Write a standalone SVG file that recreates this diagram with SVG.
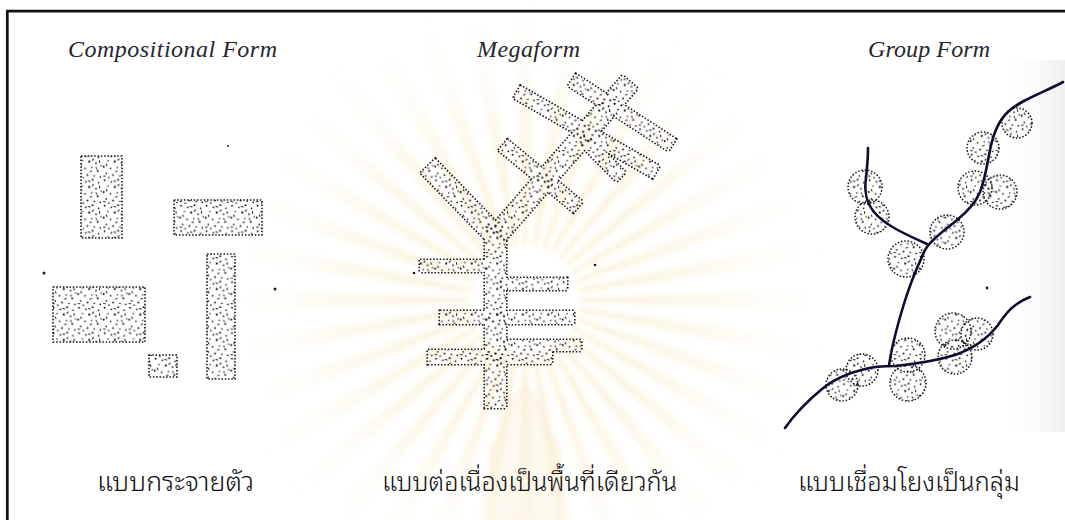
<svg xmlns="http://www.w3.org/2000/svg" xmlns:xlink="http://www.w3.org/1999/xlink" width="1065" height="520" viewBox="0 0 1065 520">
  <style>
    .title { font-family: "Liberation Serif", "Times New Roman", serif; font-style: italic; font-size: 24px; fill: #26262e; }
    .thai { font-family: "Noto Sans Thai Looped", "Loma", "Garuda", "Noto Serif Thai", "Noto Sans Thai", "Noto Sans", sans-serif; font-size: 26px; font-weight: 300; fill: #111; }
    .spot { fill: #1a1a1a; }
    .route { fill: none; stroke: #0c0c30; stroke-width: 2.6; stroke-linecap: round; stroke-linejoin: round; }
  </style>
  <defs>
    <!-- stipple texture used for every built mass -->
    <pattern id="st" width="30" height="30" patternUnits="userSpaceOnUse" patternTransform="scale(.85)">
      <g fill="#161616">
        <circle cx="3" cy="2" r="1.1"/><circle cx="11" cy="4" r="1"/><circle cx="19" cy="1.5" r="1.2"/>
        <circle cx="26" cy="5" r="1"/><circle cx="7" cy="9" r=".9"/><circle cx="15" cy="10" r="1.3"/>
        <circle cx="23" cy="12" r="1"/><circle cx="29" cy="15" r=".9"/><circle cx="2" cy="16" r="1.2"/>
        <circle cx="10" cy="18" r="1"/><circle cx="18" cy="17" r=".9"/><circle cx="25" cy="21" r="1.2"/>
        <circle cx="5" cy="24" r="1"/><circle cx="13" cy="26" r="1.1"/><circle cx="21" cy="27" r=".9"/>
        <circle cx="28" cy="28" r="1"/><circle cx="8" cy="29" r=".9"/>
      </g>
      <path d="M14 3 l2 .6 M5 13 l.8 1.8 M20 7 l-1.3 1.5 M27 9 l.4 2 M16 22 l1.8 -.8 M2 27 l1.7 .5 M23 17 l1.1 1.4" stroke="#161616" stroke-width="1.2" stroke-linecap="round"/>
    </pattern>

    <!-- watermark ray, pointing up from the origin -->
    <radialGradient id="rayg" gradientUnits="userSpaceOnUse" cx="0" cy="0" r="300">
      <stop offset="0.15" stop-color="#f1cd7c" stop-opacity=".3"/>
      <stop offset="0.5" stop-color="#f5dea5" stop-opacity=".24"/>
      <stop offset="1" stop-color="#fbeccb" stop-opacity="0"/>
    </radialGradient>
    <polygon id="ray" points="-2,-55 2,-55 11,-300 -11,-300" fill="url(#rayg)"/>
    <filter id="soft" x="-20%" y="-20%" width="140%" height="140%">
      <feGaussianBlur stdDeviation="2.5"/>
    </filter>

    <linearGradient id="scan" x1="0" x2="1" y1="0" y2="0">
      <stop offset="0" stop-color="#ffffff" stop-opacity="0"/>
      <stop offset="1" stop-color="#efefef"/>
    </linearGradient>

    <!-- megaform outline: trunk, fork branches and cross arms -->
    <g id="mega-shapes">
      <rect x="485" y="222" width="21" height="186"/>
      <rect x="420" y="260" width="68" height="12"/>
      <rect x="500" y="278" width="67" height="12"/>
      <rect x="440" y="311" width="134" height="13"/>
      <rect x="428" y="350" width="124" height="14"/>
      <rect x="500" y="340" width="81" height="11"/>
      <polygon points="420.8,173 435.2,159 501.2,227 486.8,241"/>
      <polygon points="488.5,229.4 503.5,242.6 637.5,88.6 622.5,75.4"/>
      <polygon points="568.2,85.9 575.8,74.1 675.8,139.1 668.2,150.9"/>
      <polygon points="513.5,98.1 520.5,85.9 659.5,165.9 652.5,178.1"/>
      <polygon points="498.5,150.4 507.5,139.6 582.5,201.6 573.5,212.4"/>
      <polygon points="576,141 585,131 625.5,172.3 616.5,181.7"/>
    </g>
  </defs>

  <rect width="1065" height="520" fill="#ffffff"/>

  <!-- slight grey of the scanned right-hand sheet -->
  <rect x="1000" y="60" width="65" height="372" fill="url(#scan)"/>

  <!-- page frame -->
  <path d="M7.3 520 V11.2 H1065" fill="none" stroke="#111" stroke-width="2.7"/>

  <!-- panel titles -->
  <g id="titles">
    <text class="title" x="68" y="57" textLength="209" lengthAdjust="spacing">Compositional Form</text>
    <text class="title" x="477" y="57" textLength="103" lengthAdjust="spacing">Megaform</text>
    <text class="title" x="868" y="57" textLength="122" lengthAdjust="spacing">Group Form</text>
  </g>

  <!-- scattered blocks -->
  <g id="compositional-form" fill="url(#st)" stroke="#161616" stroke-width="1.6" stroke-dasharray="1.5 1.8">
    <rect x="81" y="156" width="41" height="82"/>
    <rect x="174" y="200" width="88" height="35"/>
    <rect x="53" y="287" width="92" height="55"/>
    <rect x="149" y="355" width="28" height="22"/>
    <rect x="207" y="254" width="28" height="125"/>
    <g stroke="none" fill="#1a1a1a">
      <circle cx="228" cy="146" r="1"/>
      <circle cx="44" cy="273" r="1.5"/>
      <circle cx="275" cy="289" r="1.5"/>
    </g>
  </g>

  <!-- continuous branching mass: outline first, then white body, then stipple -->
  <g id="megaform">
    <use xlink:href="#mega-shapes" fill="none" stroke="#161616" stroke-width="3.2" stroke-dasharray="1.5 1.8"/>
    <use xlink:href="#mega-shapes" fill="#ffffff" stroke="none"/>
    <use xlink:href="#mega-shapes" fill="url(#st)" stroke="none"/>
    <circle class="spot" cx="414" cy="273" r="1.3"/>
    <circle class="spot" cx="595" cy="265" r="1.3"/>
  </g>

  <!-- clusters strung along paths -->
  <g id="group-form">
    <g id="clusters" fill="url(#st)" stroke="#161616" stroke-width="1.5" stroke-dasharray="1.5 1.8">
      <circle cx="1017" cy="123" r="15"/>
      <circle cx="983" cy="148" r="16"/>
      <circle cx="975" cy="188" r="17"/>
      <circle cx="1000" cy="192" r="17"/>
      <circle cx="947" cy="232" r="17"/>
      <circle cx="906" cy="259" r="18"/>
      <circle cx="865" cy="187" r="17"/>
      <circle cx="872" cy="217" r="17"/>
      <circle cx="842" cy="385" r="16"/>
      <circle cx="862" cy="370" r="16"/>
      <circle cx="908" cy="355" r="17"/>
      <circle cx="908" cy="383" r="18"/>
      <circle cx="953" cy="331" r="18"/>
      <circle cx="977" cy="334" r="16"/>
      <circle cx="955" cy="357" r="17"/>
    </g>
    <circle class="spot" cx="987" cy="288" r="1.4"/>
  </g>

  <g id="connectors">
    <path class="route" d="M1063,82 C1045,92 1020,100 1008,112 C999,120 993,135 990,150 C987,165 985,180 980,192 C975,204 967,212 957,220 C945,230 930,240 925,250 C918,265 908,290 903,307 C897,327 891,350 889,366"/>
    <path class="route" d="M868,148 C868,160 867,168 866,178 C864,192 866,202 874,212 C884,224 900,232 927,244"/>
    <path class="route" d="M785,428 C792,418 805,403 822,389 C835,378 848,373 865,369 C875,366 885,366 895,366 C915,364 935,361 955,355 C972,349 988,338 998,325 C1005,315 1012,304 1030,297"/>
  </g>

  <!-- Thai captions -->
  <g id="captions">
    <text class="thai" x="97" y="491" textLength="157" lengthAdjust="spacingAndGlyphs">แบบกระจายตัว</text>
    <text class="thai" x="382" y="491" textLength="295" lengthAdjust="spacingAndGlyphs">แบบต่อเนื่องเป็นพื้นที่เดียวกัน</text>
    <text class="thai" x="798" y="491" textLength="222" lengthAdjust="spacingAndGlyphs">แบบเชื่อมโยงเป็นกลุ่ม</text>
  </g>

  <!-- faint university watermark: radiating rays and crest -->
  <g id="watermark" style="mix-blend-mode:multiply" filter="url(#soft)">
    <g transform="translate(525,300)">
      <use xlink:href="#ray" transform="rotate(0)"/><use xlink:href="#ray" transform="rotate(10)"/>
      <use xlink:href="#ray" transform="rotate(20)"/><use xlink:href="#ray" transform="rotate(30)"/>
      <use xlink:href="#ray" transform="rotate(40)"/><use xlink:href="#ray" transform="rotate(50)"/>
      <use xlink:href="#ray" transform="rotate(60)"/><use xlink:href="#ray" transform="rotate(70)"/>
      <use xlink:href="#ray" transform="rotate(80)"/><use xlink:href="#ray" transform="rotate(90)"/>
      <use xlink:href="#ray" transform="rotate(100)"/><use xlink:href="#ray" transform="rotate(110)"/>
      <use xlink:href="#ray" transform="rotate(120)"/><use xlink:href="#ray" transform="rotate(130)"/>
      <use xlink:href="#ray" transform="rotate(140)"/><use xlink:href="#ray" transform="rotate(150)"/>
      <use xlink:href="#ray" transform="rotate(160)"/><use xlink:href="#ray" transform="rotate(170)"/>
      <use xlink:href="#ray" transform="rotate(180)"/><use xlink:href="#ray" transform="rotate(190)"/>
      <use xlink:href="#ray" transform="rotate(200)"/><use xlink:href="#ray" transform="rotate(210)"/>
      <use xlink:href="#ray" transform="rotate(220)"/><use xlink:href="#ray" transform="rotate(230)"/>
      <use xlink:href="#ray" transform="rotate(240)"/><use xlink:href="#ray" transform="rotate(250)"/>
      <use xlink:href="#ray" transform="rotate(260)"/><use xlink:href="#ray" transform="rotate(270)"/>
      <use xlink:href="#ray" transform="rotate(280)"/><use xlink:href="#ray" transform="rotate(290)"/>
      <use xlink:href="#ray" transform="rotate(300)"/><use xlink:href="#ray" transform="rotate(310)"/>
      <use xlink:href="#ray" transform="rotate(320)"/><use xlink:href="#ray" transform="rotate(330)"/>
      <use xlink:href="#ray" transform="rotate(340)"/><use xlink:href="#ray" transform="rotate(350)"/>
    </g>
    <path d="M525 385 C512 398 506 414 504 432 C492 440 488 454 492 470 L488 520 L562 520 L558 470 C562 454 558 440 546 432 C544 414 538 398 525 385 Z" fill="#f8ebcb" fill-opacity=".3" stroke="#efd9a4" stroke-width="2" stroke-opacity=".35"/>
  </g>
</svg>
